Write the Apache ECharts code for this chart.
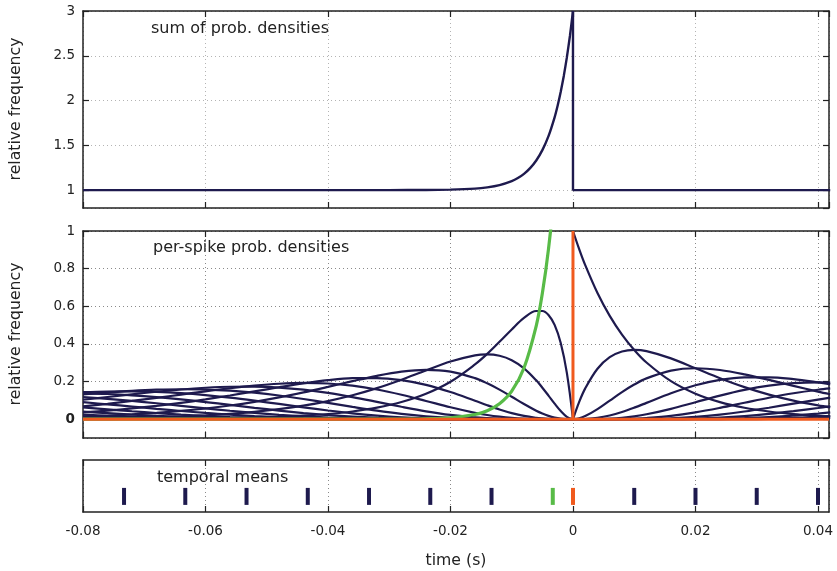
<!DOCTYPE html>
<html>
<head>
<meta charset="utf-8">
<script src="https://cdn.jsdelivr.net/npm/echarts@6/dist/echarts.min.js"></script>
<style>
  html, body { margin: 0; padding: 0; background: #fff; }
  #chart { width: 837px; height: 571px; }
</style>
</head>
<body>
<div id="chart"></div>
<script>
// ---- sample times (s) ----
const leftTimes = [-0.080, -0.076, -0.072, -0.068, -0.064, -0.060, -0.056, -0.052, -0.048, -0.044,
  -0.040, -0.036, -0.032, -0.028, -0.024, -0.020, -0.016, -0.014, -0.012, -0.010,
  -0.008, -0.006, -0.005, -0.004, -0.003, -0.002, -0.001, 0];
const rightTimes = [0, 0.001, 0.002, 0.004, 0.006, 0.008, 0.010, 0.012, 0.016, 0.020,
  0.024, 0.028, 0.032, 0.036, 0.040, 0.042];

// ---- sum of probability densities (top panel) ----
const sumTimes = [-0.080, -0.060, -0.040, -0.030, -0.024, -0.020, -0.016, -0.014, -0.012, -0.010,
  -0.009, -0.008, -0.007, -0.006, -0.005, -0.004, -0.003, -0.0025, -0.002, -0.0015,
  -0.001, -0.0005, 0];
const sumBefore = [1.000, 1.000, 1.000, 1.000, 1.001, 1.005, 1.016, 1.030, 1.055, 1.100,
  1.134, 1.181, 1.245, 1.331, 1.446, 1.602, 1.813, 1.945, 2.098, 2.275,
  2.482, 2.721, 3.000];
const sumAfter = [1, 1, 1, 1, 1, 1, 1, 1, 1, 1, 1, 1, 1, 1, 1, 1];

// ---- per-spike densities of earlier spikes (1st, 2nd, ... before) ----
const before1 = [0.0005, 0.0008, 0.0011, 0.0017, 0.0025, 0.0037, 0.0055, 0.0083, 0.0123, 0.0184,
  0.0275, 0.041, 0.061, 0.091, 0.135, 0.199, 0.291, 0.347, 0.411, 0.477,
  0.538, 0.575, 0.575, 0.554, 0.501, 0.405, 0.246, 0];
const before2 = [0.0038, 0.0053, 0.0075, 0.0105, 0.0147, 0.0204, 0.0283, 0.0389, 0.0531, 0.0718,
  0.0962, 0.1271, 0.1651, 0.2099, 0.2591, 0.3063, 0.3393, 0.3442, 0.3368, 0.3133,
  0.2702, 0.2063, 0.1673, 0.1254, 0.0827, 0.0432, 0.0127, 0];
const before3 = [0.0142, 0.0190, 0.0253, 0.0334, 0.0437, 0.0567, 0.0728, 0.0924, 0.1157, 0.1424,
  0.1717, 0.2021, 0.2305, 0.2526, 0.2624, 0.2528, 0.2180, 0.1904, 0.1569, 0.1193,
  0.0805, 0.0450, 0.0300, 0.0178, 0.0087, 0.0029, 0.0004, 0];
const before4 = [0.0358, 0.0454, 0.0570, 0.0709, 0.0870, 0.1055, 0.1259, 0.1477, 0.1697, 0.1903,
  0.2072, 0.2177, 0.2187, 0.2074, 0.1823, 0.1442, 0.0978, 0.0740, 0.0517, 0.0323,
  0.0172, 0.0071, 0.0039, 0.0018, 0.0007, 0.0001, 0, 0];
const before5 = [0.0680, 0.0816, 0.0969, 0.1134, 0.1307, 0.1480, 0.1643, 0.1782, 0.1882, 0.1925,
  0.1895, 0.1780, 0.1578, 0.1299, 0.0969, 0.0632, 0.0338, 0.0222, 0.0132, 0.0068,
  0.0029, 0.0009, 0.0004, 0.0001, 0, 0, 0, 0];
const before6 = [0.1034, 0.1178, 0.1321, 0.1457, 0.1577, 0.1669, 0.1724, 0.1731, 0.1680, 0.1569,
  0.1397, 0.1175, 0.0921, 0.0659, 0.0418, 0.0225, 0.0096, 0.0055, 0.0028, 0.0012,
  0.0004, 0, 0, 0, 0, 0, 0, 0];
const before7 = [0.1315, 0.1420, 0.1506, 0.1566, 0.1591, 0.1575, 0.1514, 0.1407, 0.1257, 0.1072,
  0.0864, 0.0652, 0.0451, 0.0281, 0.0152, 0.0068, 0.0023, 0.0011, 0.0005, 0.0001,
  0, 0, 0, 0, 0, 0, 0, 0];
const before8 = [0.1436, 0.1471, 0.1476, 0.1446, 0.1380, 0.1278, 0.1144, 0.0984, 0.0809, 0.0631,
  0.0461, 0.0311, 0.0191, 0.0104, 0.0048, 0.0018, 0.0005, 0.0002, 0.0001, 0,
  0, 0, 0, 0, 0, 0, 0, 0];
const before9 = [0.1376, 0.1337, 0.1268, 0.1171, 0.1050, 0.0910, 0.0759, 0.0605, 0.0458, 0.0326,
  0.0216, 0.0131, 0.0071, 0.0034, 0.0013, 0.0004, 0.0001, 0, 0, 0,
  0, 0, 0, 0, 0, 0, 0, 0];
const before10 = [0.1173, 0.1082, 0.0971, 0.0846, 0.0712, 0.0578, 0.0449, 0.0331, 0.0231, 0.0151,
  0.0090, 0.0049, 0.0024, 0.0010, 0.0003, 0.0001, 0, 0, 0, 0,
  0, 0, 0, 0, 0, 0, 0, 0];
const before11 = [0.0902, 0.0789, 0.0670, 0.0550, 0.0436, 0.0331, 0.0239, 0.0164, 0.0105, 0.0063,
  0.0034, 0.0017, 0.0007, 0.0003, 0.0001, 0, 0, 0, 0, 0,
  0, 0, 0, 0, 0, 0, 0, 0];
const before12 = [0.0632, 0.0524, 0.0421, 0.0326, 0.0243, 0.0173, 0.0116, 0.0074, 0.0044, 0.0024,
  0.0012, 0.0006, 0.0002, 0, 0, 0, 0, 0, 0, 0,
  0, 0, 0, 0, 0, 0, 0, 0];
const before13 = [0.0406, 0.0320, 0.0243, 0.0178, 0.0124, 0.0083, 0.0052, 0.0031, 0.0017, 0.0008,
  0.0004, 0.0002, 0, 0, 0, 0, 0, 0, 0, 0,
  0, 0, 0, 0, 0, 0, 0, 0];
const before14 = [0.0241, 0.0180, 0.0130, 0.0089, 0.0059, 0.0037, 0.0021, 0.0012, 0.0006, 0.0003,
  0.0001, 0, 0, 0, 0, 0, 0, 0, 0, 0,
  0, 0, 0, 0, 0, 0, 0, 0];
const before15 = [0.0133, 0.0095, 0.0064, 0.0042, 0.0026, 0.0015, 0.0008, 0.0004, 0.0002, 0,
  0, 0, 0, 0, 0, 0, 0, 0, 0, 0,
  0, 0, 0, 0, 0, 0, 0, 0];

// ---- the spike immediately preceding the reference spike ----
const precursor = [0, 0, 0, 0, 0, 0, 0, 0, 0, 0,
  0, 0, 0.0002, 0.0007, 0.0022, 0.0074, 0.0247, 0.045, 0.082, 0.149,
  0.272, 0.496, 0.669, 0.904, 1.22, 1.646, 2.222, 3.0];

// ---- densities of later spikes (1st, 2nd, ... after) ----
const after1 = [1, 0.9048, 0.8187, 0.6703, 0.5488, 0.4493, 0.3679, 0.3012, 0.2019, 0.1353,
  0.0907, 0.0608, 0.0408, 0.0273, 0.0183, 0.0150];
const after2 = [0, 0.0905, 0.1637, 0.2681, 0.3293, 0.3595, 0.3679, 0.3614, 0.3230, 0.2707,
  0.2177, 0.1703, 0.1304, 0.0984, 0.0733, 0.0630];
const after3 = [0, 0.0045, 0.0164, 0.0536, 0.0988, 0.1438, 0.1839, 0.2169, 0.2584, 0.2707,
  0.2613, 0.2384, 0.2087, 0.1771, 0.1465, 0.1323];
const after4 = [0, 0.0002, 0.0011, 0.0072, 0.0198, 0.0383, 0.0613, 0.0867, 0.1378, 0.1804,
  0.2090, 0.2225, 0.2226, 0.2125, 0.1954, 0.1852];
const after5 = [0, 0, 0.0001, 0.0007, 0.0030, 0.0077, 0.0153, 0.0260, 0.0551, 0.0902,
  0.1254, 0.1557, 0.1781, 0.1912, 0.1954, 0.1944];
const after6 = [0, 0, 0, 0.0001, 0.0004, 0.0012, 0.0031, 0.0062, 0.0176, 0.0361,
  0.0602, 0.0872, 0.1140, 0.1377, 0.1563, 0.1633];
const after7 = [0, 0, 0, 0, 0, 0.0002, 0.0005, 0.0012, 0.0047, 0.0120,
  0.0241, 0.0407, 0.0608, 0.0826, 0.1042, 0.1143];
const after8 = [0, 0, 0, 0, 0, 0, 0.0001, 0.0002, 0.0011, 0.0034,
  0.0083, 0.0163, 0.0278, 0.0425, 0.0595, 0.0686];
const after9 = [0, 0, 0, 0, 0, 0, 0, 0, 0.0002, 0.0009,
  0.0025, 0.0057, 0.0111, 0.0191, 0.0298, 0.0360];
const after10 = [0, 0, 0, 0, 0, 0, 0, 0, 0, 0.0002,
  0.0007, 0.0018, 0.0040, 0.0076, 0.0132, 0.0168];
const after11 = [0, 0, 0, 0, 0, 0, 0, 0, 0, 0,
  0.0002, 0.0005, 0.0013, 0.0028, 0.0053, 0.0071];

// ---- reference spike (delta at t = 0) ----
const referenceTimes = [-0.080, 0, 0, 0, 0.0418];
const referenceValues = [0, 0, 1, 0, 0];

// ---- temporal means of each spike ----
const meansBefore = [-0.0733, -0.0633, -0.0533, -0.0433, -0.0333, -0.0233, -0.0133];
const meansAfter = [0.0100, 0.0200, 0.0300, 0.0400];
const meanPrecursor = -0.0033;
const meanReference = 0;
const meanLane = 0.3;

// ---- axis ranges / ticks ----
const timeRange = [-0.08, 0.0418];
const timeStep = 0.02;
const sumRange = [0.8, 3];
const densityRange = [-0.1, 1];

const FONT = '"DejaVu Sans", "Liberation Sans", sans-serif';
const INK = '#222222';
const NAVY = '#1e1a4e';
const GREEN = '#58bb47';
const ORANGE = '#f05a1e';
const TICK_FONT = 13.5;

const beforeSets = [before1, before2, before3, before4, before5, before6, before7, before8,
  before9, before10, before11, before12, before13, before14, before15];
const afterSets = [after1, after2, after3, after4, after5, after6, after7, after8,
  after9, after10, after11];

const pairs = (ts, vs) => ts.map((t, i) => [t, vs[i]]);

const grids = [
  { left: 83, top: 11, width: 746, height: 197 },
  { left: 83, top: 231, width: 746, height: 207 },
  { left: 83, top: 460, width: 746, height: 52 }
];

const frameLine = { onZero: false, lineStyle: { color: INK, width: 1.5 } };
const innerTick = { inside: true, length: 6, lineStyle: { color: INK, width: 1.2 } };

function dotted(color) {
  return { show: true, lineStyle: { type: [1, 3], color: color, width: 1 } };
}

const xAxes = [];
const yAxes = [];
grids.forEach((g, i) => {
  const gridColor = i === 0 ? '#b4b4b4' : '#8a8a8a';
  xAxes.push({
    type: 'value', gridIndex: i, position: 'bottom',
    min: timeRange[0], max: timeRange[1], interval: timeStep,
    axisLine: frameLine, axisTick: innerTick,
    axisLabel: {
      show: i === 2, showMaxLabel: false, margin: 12,
      color: INK, fontSize: TICK_FONT, fontFamily: FONT
    },
    splitLine: dotted(gridColor)
  });
  xAxes.push({
    type: 'value', gridIndex: i, position: 'top',
    min: timeRange[0], max: timeRange[1], interval: timeStep,
    axisLine: frameLine, axisTick: innerTick,
    axisLabel: { show: false }, splitLine: { show: false }
  });
});

const yRanges = [sumRange, densityRange, [0, 1]];
grids.forEach((g, i) => {
  const strip = i === 2;
  const gridColor = i === 0 ? '#b4b4b4' : '#8a8a8a';
  yAxes.push({
    type: 'value', gridIndex: i, position: 'left',
    min: yRanges[i][0], max: yRanges[i][1],
    axisLine: frameLine,
    axisTick: strip ? { show: false } : innerTick,
    axisLabel: strip ? { show: false } : {
      showMinLabel: false, margin: 8, color: INK, fontSize: TICK_FONT, fontFamily: FONT,
      formatter: v => (i === 1 && v === 0) ? '{z|0}' : String(v),
      rich: { z: { fontWeight: 'bold', fontSize: TICK_FONT, fontFamily: FONT, color: INK } }
    },
    splitLine: strip ? { show: false } : dotted(gridColor)
  });
  yAxes.push({
    type: 'value', gridIndex: i, position: 'right',
    min: yRanges[i][0], max: yRanges[i][1],
    axisLine: frameLine,
    axisTick: strip ? { show: false } : innerTick,
    axisLabel: { show: false }, splitLine: { show: false }
  });
});

const series = [];

// top panel: sum, rising part then the drop at t = 0 and the flat part
series.push({
  type: 'line', xAxisIndex: 0, yAxisIndex: 0, symbol: 'none', smooth: 0.2, silent: true,
  lineStyle: { color: NAVY, width: 2.4 },
  data: pairs(sumTimes, sumBefore)
});
series.push({
  type: 'line', xAxisIndex: 0, yAxisIndex: 0, symbol: 'none', silent: true,
  lineStyle: { color: NAVY, width: 2.4 },
  data: [[0, sumBefore[sumBefore.length - 1]]].concat(pairs(rightTimes, sumAfter))
});

// middle panel: per-spike densities
beforeSets.forEach(vals => series.push({
  type: 'line', xAxisIndex: 2, yAxisIndex: 2, symbol: 'none', smooth: 0.35, silent: true,
  lineStyle: { color: NAVY, width: 2.2 }, data: pairs(leftTimes, vals)
}));
afterSets.forEach(vals => series.push({
  type: 'line', xAxisIndex: 2, yAxisIndex: 2, symbol: 'none', smooth: 0.35, silent: true,
  lineStyle: { color: NAVY, width: 2.2 }, data: pairs(rightTimes, vals)
}));
series.push({
  type: 'line', xAxisIndex: 2, yAxisIndex: 2, symbol: 'none', smooth: 0.35, silent: true,
  lineStyle: { color: GREEN, width: 3.2 }, data: pairs(leftTimes, precursor)
});
series.push({
  type: 'line', xAxisIndex: 2, yAxisIndex: 2, symbol: 'none', silent: true,
  lineStyle: { color: ORANGE, width: 3 }, data: pairs(referenceTimes, referenceValues)
});

// bottom strip: temporal means
const bar = { symbol: 'rect', symbolSize: [4, 17], silent: true };
series.push(Object.assign({
  type: 'scatter', xAxisIndex: 4, yAxisIndex: 4,
  itemStyle: { color: NAVY, opacity: 1 },
  data: meansBefore.concat(meansAfter).map(t => [t, meanLane])
}, bar));
series.push(Object.assign({
  type: 'scatter', xAxisIndex: 4, yAxisIndex: 4,
  itemStyle: { color: GREEN, opacity: 1 }, data: [[meanPrecursor, meanLane]]
}, bar));
series.push(Object.assign({
  type: 'scatter', xAxisIndex: 4, yAxisIndex: 4,
  itemStyle: { color: ORANGE, opacity: 1 }, data: [[meanReference, meanLane]]
}, bar));

function label(text, x, y, size, opts) {
  return Object.assign({
    type: 'text', x: x, y: y, silent: true,
    style: {
      text: text, fill: INK, font: size + 'px ' + FONT,
      align: (opts && opts.align) || 'left', verticalAlign: 'middle'
    }
  }, opts && opts.rotation !== undefined ? { rotation: opts.rotation } : {});
}

const chart = echarts.init(document.getElementById('chart'), null, { renderer: 'canvas' });
chart.setOption({
  animation: false,
  backgroundColor: '#ffffff',
  grid: grids,
  xAxis: xAxes,
  yAxis: yAxes,
  series: series,
  graphic: [
    label('sum of prob. densities', 151, 29, 16),
    label('per-spike prob. densities', 153, 248, 16),
    label('temporal means', 157, 478, 16),
    label('relative frequency', 16, 109, 15.7, { align: 'center', rotation: Math.PI / 2 }),
    label('relative frequency', 16, 334, 15.7, { align: 'center', rotation: Math.PI / 2 }),
    label('time (s)', 456, 561, 15.7, { align: 'center' })
  ]
});
</script>
</body>
</html>
